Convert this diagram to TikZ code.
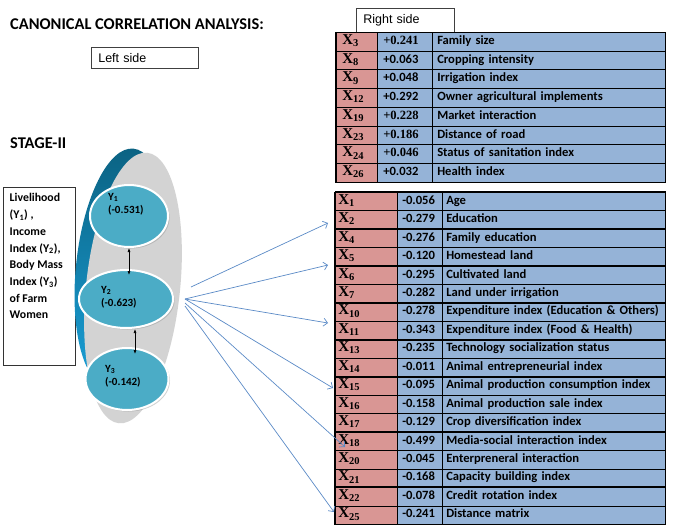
\documentclass[tikz,border=0pt]{standalone}
\usepackage{fontspec}
\setmainfont{Carlito}
\newfontfamily\timesf{Liberation Serif}
\newfontfamily\arialf{Liberation Sans}
\usetikzlibrary{arrows.meta,shapes.geometric,shadows}
\definecolor{xpink}{HTML}{D99694}
\definecolor{xblue}{HTML}{95B3D7}
\definecolor{yteal}{HTML}{4BACC6}
\definecolor{arrblue}{HTML}{5A8AC6}
\definecolor{crestop}{HTML}{0B6282}
\definecolor{cresbot}{HTML}{1AA0D8}
\definecolor{ovalgray}{HTML}{D3D3D3}
\tikzset{
  tcell/.style={draw=black, line width=0.5pt, anchor=north west, inner ysep=0pt, minimum height=18.75pt, text height=9pt, text depth=3.5pt, align=left},
  bcell/.style={tcell, minimum height=18.45pt},
  xcol/.style={fill=xpink, font=\timesf\bfseries\fontsize{15}{15}\selectfont},
  vcol/.style={fill=xblue, font=\bfseries\fontsize{12.6}{12.6}\selectfont},
  thickrule/.style={line width=1.6pt, black},
  sidebox/.style={draw=black!75, line width=0.6pt, anchor=north west, inner xsep=7pt, align=left, font=\arialf\fontsize{12.5}{12.5}\selectfont},
  heading/.style={anchor=west, inner sep=0pt, font=\bfseries\fontsize{16.4}{16.4}\selectfont},
  yell/.style={ellipse, fill=yteal, draw=white, line width=2pt, drop shadow={opacity=0.35, shadow xshift=1.5pt, shadow yshift=-1.5pt}},
  ytext/.style={anchor=north west, align=left, inner sep=0pt, font=\bfseries\fontsize{11}{13.5}\selectfont},
  bluearrow/.style={draw=arrblue, line width=0.7pt, -{Straight Barb[length=4pt,width=8pt]}},
  dblarrow/.style={draw=black, line width=0.6pt, {Latex[length=4pt,width=3pt]}-{Latex[length=4pt,width=3pt]}}
}
\begin{document}
\begin{tikzpicture}[x=1pt,y=-1pt]
\useasboundingbox (0,0) rectangle (673,527);

% headings
\node[heading] (title) at (10,24) {CANONICAL CORRELATION ANALYSIS:};
\node[heading] (stage) at (10,143) {STAGE-II};
\node[sidebox, minimum height=21pt, text width=93pt] (leftbox) at (91,47) {Left side};
\node[sidebox, minimum height=24pt, text width=84pt] (rightbox) at (356,8) {Right side};

% top table
\foreach \i/\ff/\v/\l [count=\k from 0] in {
  3/\timesf/+0.241/Family size,
  8/\relax/+0.063/Cropping intensity,
  9/\relax/+0.048/Irrigation index,
  12/\relax/+0.292/Owner agricultural implements,
  19/\timesf/+0.228/Market interaction,
  23/\timesf/+0.186/Distance of road,
  24/\timesf/+0.046/Status of sanitation index,
  26/\relax/+0.032/Health index}{
  \node[tcell,xcol,inner xsep=6pt,text width=29pt] (tx\i) at (336,{32+18.75*\k}) {X\textsubscript{\i}};
  \node[tcell,vcol,inner xsep=6pt,text width=43pt] (tv\i) at (377,{32+18.75*\k}) {\ff\v};
  \node[tcell,vcol,inner xsep=5pt,text width=223pt] (tl\i) at (432,{32+18.75*\k}) {\l};
}
\draw[thickrule] (tx3.north west) -- (tx26.south west) -- (tl26.south east);

% bottom table
\foreach \i/\v/\l [count=\k from 0] in {
  1/-0.056/Age,
  2/-0.279/Education,
  4/-0.276/Family education,
  5/-0.120/Homestead land,
  6/-0.295/Cultivated land,
  7/-0.282/Land under irrigation,
  10/-0.278/{Expenditure index (Education \& Others)},
  11/-0.343/{Expenditure index (Food \& Health)},
  13/-0.235/Technology socialization status,
  14/-0.011/Animal entrepreneurial index,
  15/-0.095/Animal production consumption index,
  16/-0.158/Animal production sale index,
  17/-0.129/Crop diversification index,
  18/-0.499/Media-social interaction index,
  20/-0.045/Enterpreneral interaction,
  21/-0.168/Capacity building index,
  22/-0.078/Credit rotation index,
  25/-0.241/Distance matrix}{
  \node[bcell,xcol,inner xsep=3pt,text width=56pt] (bx\i) at (335,{192+18.45*\k}) {X\textsubscript{\i}};
  \node[bcell,vcol,inner xsep=5pt,text width=35pt] (bv\i) at (397,{192+18.45*\k}) {\v};
  \node[bcell,vcol,inner xsep=4pt,text width=215pt] (bl\i) at (442,{192+18.45*\k}) {\l};
}
\foreach \i in {1,4,6,10,13,15,18,22}
  \draw[thickrule] (bx\i.north west) -- (bl\i.north east);
\draw[thickrule] (bx1.north west) -- (bx25.south west);

% livelihood box
\node[draw=black!80, line width=0.6pt, minimum width=72pt, minimum height=178pt, anchor=north west, inner sep=0pt] (livebox) at (3,187) {};
\node[anchor=north west, align=left, inner sep=0pt, font=\bfseries\fontsize{11.8}{16.7}\selectfont] (livetext) at (9.5,193.5)
  {Livelihood\\(Y\textsubscript{1}) ,\\Income\\Index (Y\textsubscript{2}),\\Body Mass\\Index (Y\textsubscript{3})\\of Farm\\Women};

% oval group
\node[ellipse, top color=crestop, bottom color=cresbot, minimum width=90pt, minimum height=240pt, rotate=-6] (cres) at (121,268) {};
\node[ellipse, fill=ovalgray, minimum width=94pt, minimum height=272pt, rotate=-6] (oval) at (133,288) {};

\node[yell, minimum width=78pt, minimum height=62pt] (y1) at (129,216) {};
\node[yell, minimum width=94pt, minimum height=58pt] (y2) at (126,299) {};
\node[yell, minimum width=83pt, minimum height=62pt] (y3) at (127,379) {};

\node[ytext] (y1t) at (108,193) {Y\textsubscript{1}\\(-0.531)};
\node[ytext] (y2t) at (101,286) {Y\textsubscript{2}\\(-0.623)};
\node[ytext] (y3t) at (105,365) {Y\textsubscript{3}\\(-0.142)};

\draw[dblarrow, shorten >=-6pt] (y1.south) -- (y1.south |- y2.north);
\draw[dblarrow, shorten >=-7pt] ([xshift=9pt]y2.south) -- ([xshift=9pt]y2.south |- y3.north);

% arrows to the table
\coordinate (o1) at (191,287);
\coordinate (o2) at (185,299);
\coordinate (o3) at (185,303);
\coordinate (o4) at (185,306);
\coordinate (e1) at (328,223);
\coordinate (e2) at (328,265);
\coordinate (e3) at (328,323);
\coordinate (e4) at (333,388);
\coordinate (e5) at (345,447);
\coordinate (e6) at (334,512);
\draw[bluearrow] (o1) -- (e1);
\draw[bluearrow] (o2) -- (e2);
\draw[bluearrow] (o2) -- (e3);
\draw[bluearrow] (o2) -- (e4);
\draw[bluearrow] (o3) -- (e5);
\draw[bluearrow] (o4) -- (e6);
\end{tikzpicture}
\end{document}
